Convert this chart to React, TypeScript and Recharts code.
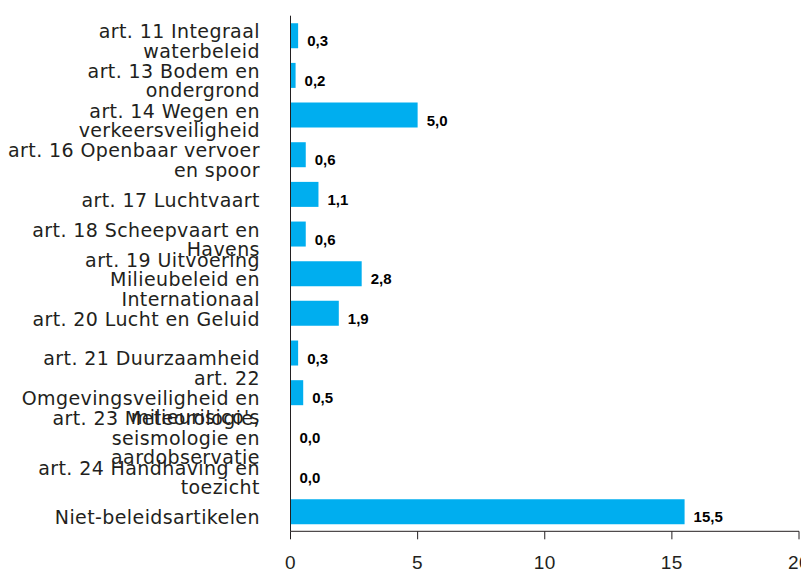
import { BarChart, Bar, XAxis, YAxis, LabelList } from 'recharts';

const categories = [
  'art. 11 Integraal\nwaterbeleid',
  'art. 13 Bodem en\nondergrond',
  'art. 14 Wegen en\nverkeersveiligheid',
  'art. 16 Openbaar vervoer\nen spoor',
  'art. 17 Luchtvaart',
  'art. 18 Scheepvaart en\nHavens',
  'art. 19 Uitvoering\nMilieubeleid en\nInternationaal',
  'art. 20 Lucht en Geluid',
  'art. 21 Duurzaamheid',
  "art. 22\nOmgevingsveiligheid en\nmilieurisico's",
  'art. 23 Meteorologie,\nseismologie en\naardobservatie',
  'art. 24 Handhaving en\ntoezicht',
  'Niet-beleidsartikelen',
];

const values = [0.3, 0.2, 5.0, 0.6, 1.1, 0.6, 2.8, 1.9, 0.3, 0.5, 0.0, 0.0, 15.5];

const xTicks = [0, 5, 10, 15, 20];

const data = categories.map((name, i) => ({ name, value: values[i] }));

const FONT = '"Liberation Sans", Arial, sans-serif';
const LABEL_FONT = '"DejaVu Sans", sans-serif';
const TEXT = '#231f20';

const CategoryTick = ({ x, y, payload }: any) => {
  const lines = String(payload.value).split('\n');
  const lh = 19.5;
  const first = y + 12.5 - ((lines.length - 1) * lh) / 2;
  return (
    <text
      x={x}
      textAnchor="end"
      fontFamily={LABEL_FONT}
      fontSize={19}
      letterSpacing={0.4}
      fill={TEXT}
    >
      {lines.map((l, i) => (
        <tspan key={i} x={x + 0.4} y={first + i * lh}>
          {l}
        </tspan>
      ))}
    </text>
  );
};

const ValueTick = ({ x, y, payload }: any) => (
  <text x={x} y={y + 28} textAnchor="middle" fontFamily={FONT} fontSize={19} letterSpacing={0.5} fill={TEXT}>
    {payload.value}
  </text>
);

const ValueLabel = ({ x, y, width, height, value }: any) => (
  <text
    x={x + width + 9}
    y={y + height / 2 + 10.5}
    fontFamily={FONT}
    fontSize={15}
    fontWeight="bold"
    fill="#000"
  >
    {Number(value).toFixed(1).replace('.', ',')}
  </text>
);

export default function App() {
  return (
    <div style={{ position: 'absolute', left: 0, top: 0, background: '#fff' }}>
      <BarChart
        width={801}
        height={572}
        data={data}
        layout="vertical"
        margin={{ top: 15.7, right: 2, left: 0, bottom: 0 }}
        barCategoryGap="19%"
      >
        <XAxis
          type="number"
          domain={[0, 20]}
          ticks={xTicks}
          height={40.7}
          tickSize={8}
          stroke={TEXT}
          tick={<ValueTick />}
          interval={0}
        />
        <YAxis
          type="category"
          dataKey="name"
          width={290.5}
          tickLine={false}
          tickSize={0}
          tickMargin={31}
          stroke={TEXT}
          tick={<CategoryTick />}
          interval={0}
        />
        <Bar dataKey="value" fill="#00aeef" minPointSize={0.01} isAnimationActive={false}>
          <LabelList dataKey="value" content={<ValueLabel />} />
        </Bar>
      </BarChart>
    </div>
  );
}
